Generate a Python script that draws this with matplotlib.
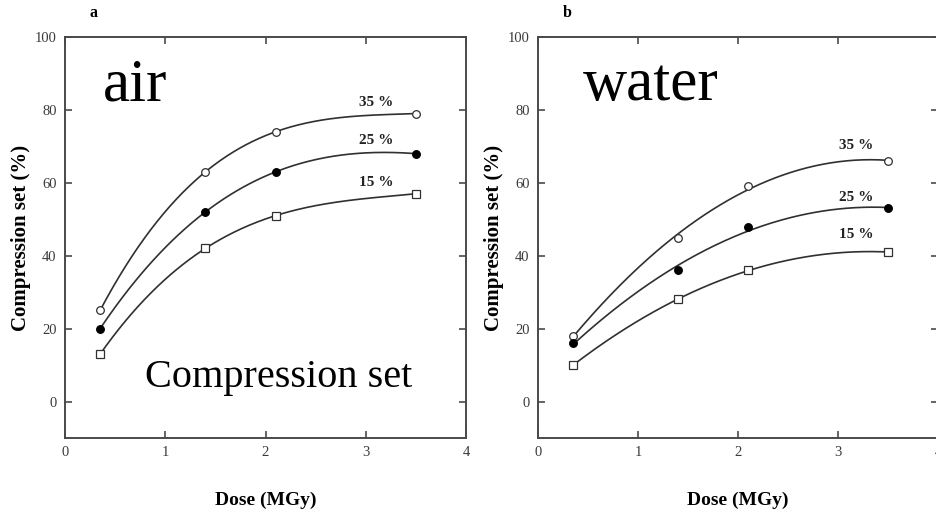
import numpy as np
import matplotlib
matplotlib.use("Agg")
import matplotlib.pyplot as plt

plt.rcParams['font.family'] = ['Liberation Serif', 'DejaVu Serif']

# Irradiation doses (MGy)
dose = [0.35, 1.4, 2.1, 3.5]

# Compression set (%) after irradiation in air
air_35 = [25, 63, 74, 79]
air_25 = [20, 52, 63, 68]
air_15 = [13, 42, 51, 57]

# Compression set (%) after irradiation in water
water_35 = [18, 45, 59, 66]
water_25 = [16, 36, 48, 53]
water_15 = [10, 28, 36, 41]

strain_labels = ["35 %", "25 %", "15 %"]
air_label_pos = [(3.1, 81.9), (3.1, 71.7), (3.1, 60.2)]
water_label_pos = [(3.18, 70.3), (3.18, 56.1), (3.18, 45.7)]

W, H = 937, 509
fig = plt.figure(figsize=(W / 100, H / 100), dpi=100)

ax_a = fig.add_axes([65 / W, (H - 438) / H, 401 / W, 401 / H])
ax_b = fig.add_axes([538 / W, (H - 438) / H, 400 / W, 401 / H])

line_c = '#303030'
spine_c = '#4a4a4a'
styles = [
    dict(marker='o', mfc='white', mec=line_c),
    dict(marker='o', mfc='black', mec='black'),
    dict(marker='s', mfc='white', mec=line_c),
]


def draw_panel(ax, series, label_pos, medium, fit_deg, extra=None):
    xs = np.linspace(dose[0], dose[-1], 200)
    for vals, st, lab, (lx, ly) in zip(series, styles, strain_labels, label_pos):
        coef = np.polyfit(dose, vals, fit_deg)
        ax.plot(xs, np.polyval(coef, xs), color=line_c, lw=1.2, zorder=2)
        ax.plot(dose, vals, linestyle='none', ms=5.5, mew=0.9, zorder=3, **st)
        ax.text(lx, ly, lab, ha='center', va='center', fontsize=11,
                fontweight='bold', color='#222222')
    ax.set_xlim(0, 4)
    ax.set_ylim(-10, 100)
    ax.set_xticks([0, 1, 2, 3, 4])
    ax.set_yticks([0, 20, 40, 60, 80, 100])
    ax.tick_params(direction='in', length=5, width=1.2, colors=spine_c,
                   labelcolor='#3a3a3a', labelsize=10.5, top=True, right=True,
                   pad=6)
    for s in ax.spines.values():
        s.set_color(spine_c)
        s.set_linewidth(1.4)
    ax.set_xlabel('Dose (MGy)', fontsize=14, fontweight='bold', labelpad=23)
    ax.set_ylabel('Compression set (%)', fontsize=15, fontweight='bold',
                  labelpad=3)
    ax.text(0.38 if medium == 'air' else 0.45, 82.7, medium, fontsize=44,
            ha='left', va='baseline', color='black')
    if extra:
        ax.text(0.80, 4.0, extra, fontsize=29, ha='left', va='baseline',
                color='black')


draw_panel(ax_a, [air_35, air_25, air_15], air_label_pos, 'air', 3,
           extra='Compression set')
draw_panel(ax_b, [water_35, water_25, water_15], water_label_pos, 'water', 2)

fig.text(94 / W, 1 - 13 / H, 'a', fontsize=11.5, fontweight='bold',
         ha='center', va='center')
fig.text(567 / W, 1 - 13 / H, 'b', fontsize=11.5, fontweight='bold',
         ha='center', va='center')

fig.savefig('out.png', dpi=100)
